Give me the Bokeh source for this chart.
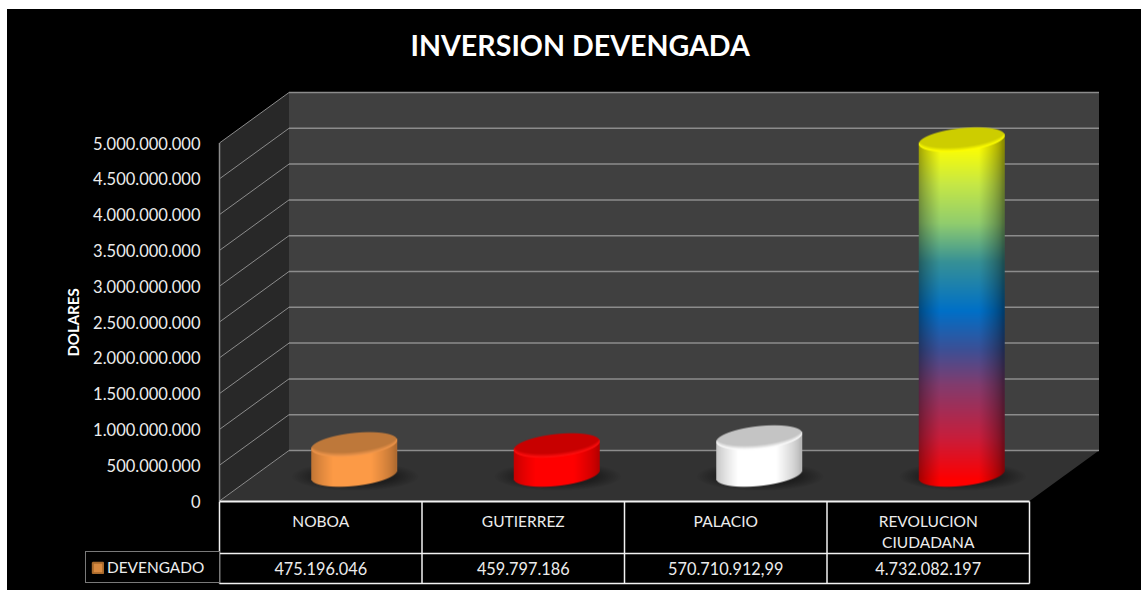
import numpy as np
from bokeh.embed import file_html
from bokeh.resources import INLINE
from bokeh.plotting import figure
from bokeh.models import FixedTicker, Legend, LegendItem
from bokeh.core.properties import value

# ---- data ----
categories = ["NOBOA", "GUTIERREZ", "PALACIO", "REVOLUCION\nCIUDADANA"]
devengado = [475196046, 459797186, 570710912.99, 4732082197]
value_labels = ["475.196.046", "459.797.186", "570.710.912,99", "4.732.082.197"]
series_name = "DEVENGADO"
title_text = "INVERSION DEVENGADA"
axis_title = "DOLARES"
ticks = [0, 5e8, 1e9, 1.5e9, 2e9, 2.5e9, 3e9, 3.5e9, 4e9, 4.5e9, 5e9]
tick_labels = ["0", "500.000.000", "1.000.000.000", "1.500.000.000", "2.000.000.000",
               "2.500.000.000", "3.000.000.000", "3.500.000.000", "4.000.000.000",
               "4.500.000.000", "5.000.000.000"]

# ---- styles ----
ORANGE_STOPS = [(0, (252, 154, 70)), (1, (252, 154, 70))]
RED_STOPS = [(0, (255, 0, 0)), (1, (255, 0, 0))]
WHITE_STOPS = [(0, (255, 255, 255)), (1, (255, 255, 255))]
RAINBOW_STOPS = [(0.00, (255, 255, 0)), (0.03, (255, 255, 0)), (0.14, (198, 232, 70)),
                 (0.25, (145, 205, 110)), (0.36, (55, 145, 150)), (0.50, (0, 112, 200)),
                 (0.61, (60, 80, 150)), (0.71, (130, 60, 110)), (0.86, (200, 30, 60)),
                 (0.98, (255, 0, 0)), (1.00, (255, 0, 0))]
bar_stops = [ORANGE_STOPS, RED_STOPS, WHITE_STOPS, RAINBOW_STOPS]
edge_dark = [0.70, 0.72, 0.72, 0.55]
cap_colors = [(190, 120, 58), (200, 0, 0), (196, 196, 196), (205, 205, 0)]
rim_colors = [(240, 150, 75), (255, 15, 15), (252, 252, 252), (255, 255, 0)]
BACK_WALL, SIDE_WALL, FLOOR = "#404040", "#282828", "#323232"
GRID = "#8c8c8c"
TEXT = "#ececec"
TABLE = "#f2f2f2"
FONT = "Lato"

OX, OY = 7, 9            # white margin of the reference
W, H = 1141 - OX, 590 - OY
FRAME_TOP = 61           # screen y of the frame's top edge
COL0, COLW = 219.0, 202.5
K = 71.6e-9              # px per dollar
Y0 = 500.5               # screen y of value 0 on the front plane


def X(px):
    return (px - COL0) / COLW


def Y(py):
    return (Y0 - py) / K


DX = 69.5 / COLW         # depth offset of the back wall, x
DY = 50.5 / K            # depth offset of the back wall, value
BAR_TOP_PLANE = 315e6    # lift of the cylinder's top centre
BAR_BASE_PLANE = 370e6   # value-plane of the cylinder's base centre
BAR_SHIFT = 33.5 / COLW  # bars stand midway in the depth

p = figure(width=W, height=H, output_backend="svg", toolbar_location=None,
           margin=(OY, 0, 0, OX),
           x_range=(X(OX), X(OX + W)), y_range=(Y(OY + H), Y(FRAME_TOP)),
           min_border_left=0, min_border_right=0,
           min_border_top=FRAME_TOP - OY, min_border_bottom=0,
           background_fill_color=None, border_fill_color="black", outline_line_color=None,
           styles={"background-color": "black"},
           x_axis_location=None)
p.grid.visible = False

# title
p.title.text = title_text
p.title.align = "left"
p.title.offset = 403
p.title.standoff = 0
p.title.text_color = "white"
p.title.text_font = FONT
p.title.text_font_style = "bold"
p.title.text_font_size = "28.6px"

# value axis, held at the front-left edge of the 3-D box
ax = p.yaxis[0]
ax.fixed_location = 0
ax.ticker = FixedTicker(ticks=ticks)
ax.major_label_overrides = {t: s for t, s in zip(ticks, tick_labels)}
ax.bounds = (ticks[0], ticks[-1])
ax.axis_line_color = None
ax.major_tick_line_color = None
ax.minor_tick_line_color = None
ax.major_label_text_color = TEXT
ax.major_label_text_font = FONT
ax.major_label_text_font_size = "16.5px"
ax.major_label_standoff = 13
ax.axis_label = axis_title
ax.axis_label_text_color = "white"
ax.axis_label_text_font = FONT
ax.axis_label_text_font_style = "bold"
ax.axis_label_text_font_size = "15px"
ax.axis_label_standoff = 8

# 3-D box
n = len(categories)
vmax = ticks[-1]
p.patch([DX, DX + n, DX + n, DX], [DY, DY, vmax + DY, vmax + DY], fill_color=BACK_WALL, line_color=None)
p.patch([0, DX, DX, 0], [0, DY, vmax + DY, vmax], fill_color=SIDE_WALL, line_color=None)
p.patch([0, DX, DX + n, n], [0, DY, DY, 0], fill_color=FLOOR, line_color=None)
p.segment([DX] * len(ticks), [t + DY for t in ticks], [DX + n] * len(ticks), [t + DY for t in ticks],
          line_color=GRID, line_width=1.5)
p.segment([0] * len(ticks), ticks, [DX] * len(ticks), [t + DY for t in ticks],
          line_color=GRID, line_width=1)
p.segment([0], [0], [0], [vmax], line_color=GRID, line_width=1.5)

# soft shadows on the floor
for i in range(n):
    cx = i + 0.5 + BAR_SHIFT
    for s in range(10):
        p.ellipse(x=[cx + 1 / COLW], y=[BAR_BASE_PLANE - 2 / K],
                  width=[(126 - s * 5) / COLW], height=[(28 - s * 1.2) / K],
                  fill_color="black", fill_alpha=0.04, line_color=None)


def gradient(stops, f):
    fr = [s[0] for s in stops]
    return np.stack([np.interp(f, fr, [s[1][c] for s in stops]) for c in range(3)], axis=-1)


def cylinder(val, stops, dark, cap, rim):
    """RGBA picture of one cylinder, with its screen box."""
    hw, eh, tilt = 43.0, 11.5, 4.3
    top_c = Y0 - K * (val + BAR_TOP_PLANE)
    base_c = Y0 - K * BAR_BASE_PLANE
    y0 = int(np.floor(top_c - 15))
    y1 = int(np.ceil(base_c + 15))
    h, w = y1 - y0, int(2 * hw + 2)
    xs = (np.arange(w) + 0.5 - w / 2)[None, :].repeat(h, 0)
    ys = (np.arange(h) + 0.5 + y0)[:, None].repeat(w, 1)
    u = np.clip(xs / hw, -1, 1)
    r = np.sqrt(1 - u ** 2)
    cap_top = top_c - tilt * u - eh * r
    cap_bot = top_c - tilt * u + eh * r
    base_bot = base_c - tilt * u + eh * r
    side = np.clip(hw + 0.5 - np.abs(xs), 0, 1)
    f = np.clip((ys - cap_bot.min()) / max(base_bot.max() - cap_bot.min(), 1), 0, 1)
    col = gradient(stops, f)
    shade = dark + (1 - dark) * np.clip((1 - np.abs(u + 0.05)) / 0.55, 0, 1) ** 0.7
    body = col * shade[..., None]
    a_body = np.clip(ys - cap_top + 0.5, 0, 1) * np.clip(base_bot - ys + 0.5, 0, 1)
    m = np.clip((ys - cap_bot + 4.5) / 4.0, 0, 1)[..., None]
    cap_col = np.array(cap)[None, None, :] * (1 - m) + np.array(rim)[None, None, :] * m
    inside_cap = np.clip(cap_bot - ys + 0.5, 0, 1)[..., None]
    rgb = body * (1 - inside_cap) + cap_col * inside_cap
    alpha = a_body * side
    img = np.dstack([np.clip(rgb, 0, 255), alpha * 255]).astype(np.uint8)[::-1]
    return img, y0, y1, w


for i, v in enumerate(devengado):
    arr, y0, y1, w = cylinder(v, bar_stops[i], edge_dark[i], cap_colors[i], rim_colors[i])
    packed = arr.copy().view(np.uint32).reshape(arr.shape[0], arr.shape[1])
    cx = i + 0.5 + BAR_SHIFT
    p.image_rgba(image=[packed], x=[cx - w / 2 / COLW], y=[Y(y1)],
                 dw=[w / COLW], dh=[(y1 - y0) / K])

# data table
row_top, row_mid, row_bot = Y(501), Y(553), Y(583)
p.segment(list(range(n + 1)), [row_top] * (n + 1), list(range(n + 1)), [row_bot] * (n + 1),
          line_color=TABLE, line_width=1.5)
p.segment([0, 0, 0], [row_top, row_mid, row_bot], [n, n, n], [row_top, row_mid, row_bot],
          line_color=TABLE, line_width=[2, 1.5, 1.5])
centers = [i + 0.5 for i in range(n)]
p.text(x=centers, y=[Y(520 + 11 * c.count("\n")) for c in categories], text=categories,
       text_color=TEXT, text_font=value(FONT), text_font_size="15.5px",
       text_align="center", text_baseline="middle", text_line_height=1.2)
p.text(x=centers, y=[Y(568)] * n, text=value_labels, text_color=TEXT, text_font=value(FONT),
       text_font_size="16.3px", text_align="center", text_baseline="middle")

# legend key: the table's row header
key = p.quad(left=[-9], right=[-8], top=[1], bottom=[0], fill_color="#d88a40", line_color="#a86a2c", line_width=2)
leg = Legend(items=[LegendItem(label=value(series_name), renderers=[key])],
             location=(78, 7), margin=0, padding=5, glyph_width=13, glyph_height=13,
             label_standoff=3, label_width=107, label_height=20, label_text_color=TEXT, label_text_font=FONT,
             label_text_font_size="15.4px", background_fill_color="black", background_fill_alpha=1,
             border_line_color=TABLE, border_line_width=1.5)
p.add_layout(leg)

open("out.html", "w").write(file_html(p, INLINE))
